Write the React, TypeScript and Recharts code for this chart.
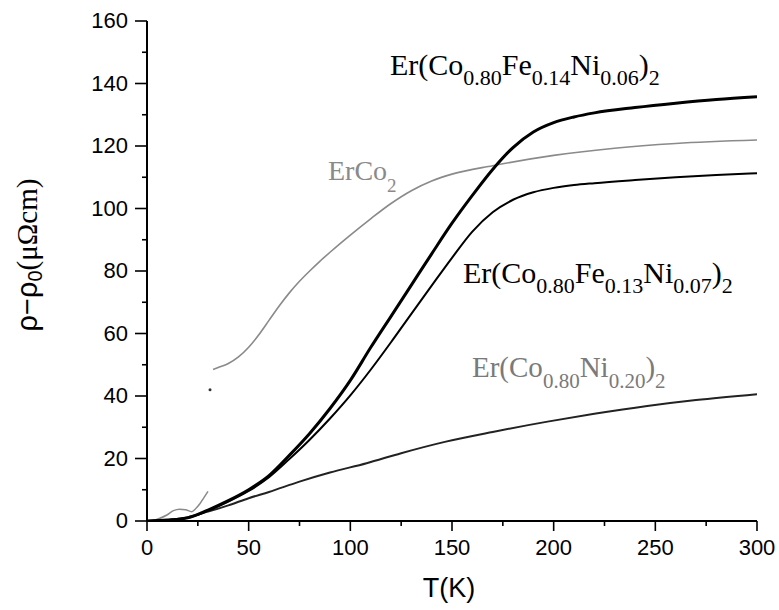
import React from 'react';
import { ComposedChart, Line, Scatter, XAxis, YAxis, Customized, Label } from 'recharts';

// ---- data ----
const tempAB = [0, 10, 20, 30, 40, 50, 60, 70, 80, 90, 100, 110, 120, 130, 140, 150, 160, 170, 180, 190, 200, 210, 220, 240, 260, 280, 300];
const rhoFe14 = [0, 0.3, 1, 3.5, 6.5, 10, 14.5, 21, 28, 36, 45, 55.5, 65.5, 75.5, 85.5, 95.3, 104.2, 112.5, 119.5, 124.5, 127.5, 129.3, 130.6, 132.3, 133.7, 134.9, 135.8];
const rhoFe13 = [0, 0.3, 1, 3.3, 6.2, 9.6, 14, 19.8, 26, 32.8, 40.2, 48.4, 57.2, 66.3, 75.3, 84.2, 92.6, 98.8, 102.8, 105.2, 106.6, 107.5, 108.1, 109.1, 110, 110.7, 111.3];

const tempNi = [0, 10, 20, 30, 40, 50, 60, 75, 90, 108, 125, 147, 170, 197, 220, 246, 270, 300];
const rhoNi20 = [0, 0.3, 1.2, 3, 5, 7.3, 9.3, 12.6, 15.5, 18.5, 21.7, 25.4, 28.5, 31.8, 34.3, 36.8, 38.7, 40.6];

const tempErCo2Low = [2, 6, 10, 13, 16, 19, 22, 24, 26, 28, 30];
const rhoErCo2Low = [0, 0.8, 2, 3.3, 3.8, 3.6, 3.0, 4, 5.5, 7.5, 9.5];
const tempErCo2Spike = [31];
const rhoErCo2Spike = [42];
const tempErCo2 = [32.5, 35, 40, 45, 50, 55, 60, 65, 70, 75, 80, 85, 90, 100, 110, 120, 130, 140, 150, 170, 200, 230, 260, 300];
const rhoErCo2 = [48.5, 49.1, 50.4, 52.5, 55.6, 59.6, 64.2, 68.8, 73.0, 76.7, 80.0, 83.1, 86.0, 91.5, 96.7, 101.6, 105.7, 108.8, 111.0, 113.7, 117, 119.3, 120.8, 121.9];

const xTicks = [0, 25, 50, 75, 100, 125, 150, 175, 200, 225, 250, 275, 300];
const yTicks = [0, 10, 20, 30, 40, 50, 60, 70, 80, 90, 100, 110, 120, 130, 140, 150, 160];

const zip = (t: number[], v: number[]) => t.map((T, i) => ({ T, v: v[i] }));
const dFe14 = zip(tempAB, rhoFe14);
const dFe13 = zip(tempAB, rhoFe13);
const dNi20 = zip(tempNi, rhoNi20);
const dErLow = zip(tempErCo2Low, rhoErCo2Low);
const dErSpike = zip(tempErCo2Spike, rhoErCo2Spike);
const dEr = zip(tempErCo2, rhoErCo2);

const SANS = '"Liberation Sans", Arial, sans-serif';
const SERIF = '"Liberation Serif", "Times New Roman", serif';

const XTick = (props: any) => {
  const { x, y, payload } = props;
  const major = payload.value % 50 === 0;
  return (
    <g>
      <line x1={x} y1={y} x2={x} y2={y + (major ? 10 : 5)} stroke="#000" strokeWidth={1.6} />
      {major && (
        <text x={x} y={y + 34} textAnchor="middle" style={{ fontFamily: SANS, fontSize: 22 }} fill="#000">
          {payload.value}
        </text>
      )}
    </g>
  );
};

const YTick = (props: any) => {
  const { x, y, payload } = props;
  const major = payload.value % 20 === 0;
  return (
    <g>
      <line x1={x} y1={y} x2={x - (major ? 12 : 5)} y2={y} stroke="#000" strokeWidth={1.6} />
      {major && (
        <text x={x - 19} y={y + 7} textAnchor="end" style={{ fontFamily: SANS, fontSize: 22 }} fill="#000">
          {payload.value}
        </text>
      )}
    </g>
  );
};

type Seg = [string, boolean];
const Formula = ({ x, y, segs, size, sub, shift, fill }: { x: number; y: number; segs: Seg[]; size: number; sub: number; shift: number; fill: string }) => {
  let down = false;
  return (
    <text x={x} y={y} fill={fill} style={{ fontFamily: SERIF, fontSize: size }}>
      {segs.map(([s, isSub], i) => {
        let dy = 0;
        if (isSub && !down) { dy = shift; down = true; }
        else if (!isSub && down) { dy = -shift; down = false; }
        return (
          <tspan key={i} dy={dy} style={{ fontFamily: SERIF, fontSize: isSub ? sub : size }}>{s}</tspan>
        );
      })}
    </text>
  );
};

const Annotations = () => (
  <g>
    <Formula x={390} y={75} size={30} sub={22} shift={10} fill="#000"
      segs={[['Er(Co', false], ['0.80', true], ['Fe', false], ['0.14', true], ['Ni', false], ['0.06', true], [')', false], ['2', true]]} />
    <Formula x={463} y={283} size={30} sub={22} shift={10} fill="#000"
      segs={[['Er(Co', false], ['0.80', true], ['Fe', false], ['0.13', true], ['Ni', false], ['0.07', true], [')', false], ['2', true]]} />
    <Formula x={328} y={180} size={28} sub={19} shift={12} fill="#8a8a8a"
      segs={[['ErCo', false], ['2', true]]} />
    <Formula x={472} y={377} size={29} sub={21} shift={11} fill="#7a7a7a"
      segs={[['Er(Co', false], ['0.80', true], ['Ni', false], ['0.20', true], [')', false], ['2', true]]} />
  </g>
);

const YTitle = () => {
  const cx = 27;
  const cy = 255;
  return (
    <text x={cx} y={cy} transform={`rotate(-90, ${cx}, ${cy})`} textAnchor="middle" dominantBaseline="central" style={{ fontSize: 29 }} fill="#000">
      <tspan style={{ fontFamily: SANS, fontSize: 29 }}>ρ−ρ</tspan>
      <tspan style={{ fontFamily: SANS, fontSize: 20 }} dy={8}>0</tspan>
      <tspan style={{ fontFamily: SERIF, fontSize: 29 }} dy={-8}>(μΩcm)</tspan>
    </text>
  );
};

const XTitle = (props: any) => {
  const vb = props.viewBox || { x: 147, y: 521, width: 610 };
  return (
    <text x={vb.x + vb.width / 2 - 3} y={vb.y + 76} textAnchor="middle" style={{ fontFamily: SANS, fontSize: 27 }} fill="#000">
      T(K)
    </text>
  );
};

export default function App() {
  return (
    <div style={{ position: 'absolute', left: 0, top: 0, background: '#fff' }}>
      <ComposedChart width={779} height={610} margin={{ top: 21, right: 22, bottom: 0, left: 0 }}>
        <XAxis dataKey="T" type="number" domain={[0, 300]} ticks={xTicks} interval={0}
          tick={<XTick />} tickLine={false} tickSize={0} tickMargin={0} height={89}
          axisLine={{ stroke: '#000', strokeWidth: 2 }} allowDataOverflow>
          <Label content={<XTitle />} />
        </XAxis>
        <YAxis type="number" domain={[0, 160]} ticks={yTicks} interval={0}
          tick={<YTick />} tickLine={false} tickSize={0} tickMargin={0} width={147}
          axisLine={{ stroke: '#000', strokeWidth: 2 }} allowDataOverflow>
          <Label content={<YTitle />} />
        </YAxis>
        <XAxis xAxisId="top" orientation="top" type="number" domain={[0, 300]} height={0}
          tick={false} tickLine={false} axisLine={{ stroke: '#000', strokeWidth: 1.5 }} />
        <YAxis yAxisId="right" orientation="right" type="number" domain={[0, 160]} width={0}
          tick={false} tickLine={false} axisLine={{ stroke: '#000', strokeWidth: 1.5 }} />

        <Line data={dErLow} dataKey="v" type="monotone" stroke="#8a8a8a" strokeWidth={1.5} dot={false} isAnimationActive={false} />
        <Line data={dEr} dataKey="v" type="monotone" stroke="#8a8a8a" strokeWidth={1.6} dot={false} isAnimationActive={false} />
        <Scatter data={dErSpike} dataKey="v" fill="#333" shape={(p: any) => <circle cx={p.cx} cy={p.cy} r={1.5} fill="#333" />} isAnimationActive={false} />
        <Line data={dNi20} dataKey="v" type="monotone" stroke="#222" strokeWidth={2} dot={false} isAnimationActive={false} />
        <Line data={dFe13} dataKey="v" type="monotone" stroke="#000" strokeWidth={2} dot={false} isAnimationActive={false} />
        <Line data={dFe14} dataKey="v" type="monotone" stroke="#000" strokeWidth={3} dot={false} isAnimationActive={false} />
        <Customized component={Annotations} />
      </ComposedChart>
    </div>
  );
}
